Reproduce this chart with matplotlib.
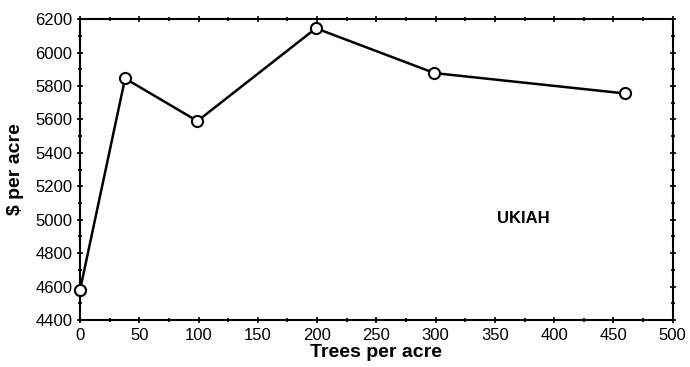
import matplotlib
matplotlib.use("Agg")
import matplotlib.pyplot as plt
from matplotlib.ticker import MultipleLocator

trees = [0, 38, 99, 199, 299, 460]
dollars = [4580, 5845, 5590, 6145, 5877, 5755]
xticks = list(range(0, 501, 50))
yticks = list(range(4400, 6201, 200))

plt.rcParams['font.family'] = ['Liberation Sans', 'DejaVu Sans']
fig = plt.figure(figsize=(6.9, 3.67), dpi=100)
ax = fig.add_axes([0.116, 0.128, 0.859, 0.820])
ax.plot(trees, dollars, color='black', lw=1.8, marker='o', ms=8,
        mfc='white', mec='black', mew=1.5, clip_on=False, zorder=3)
ax.set_xlim(0, 500)
ax.set_ylim(4400, 6200)
ax.set_xticks(xticks)
ax.set_yticks(yticks)
ax.xaxis.set_minor_locator(MultipleLocator(25))
ax.yaxis.set_minor_locator(MultipleLocator(100))
ax.tick_params(which='both', top=True, right=True, direction='inout',
               labelsize=12, width=1.2, pad=3)
ax.tick_params(which='major', length=5)
ax.tick_params(which='minor', length=3)
for s in ax.spines.values():
    s.set_linewidth(1.5)
ax.set_xlabel('Trees per acre', fontsize=14, fontweight='bold', labelpad=1)
ax.set_ylabel('$ per acre', fontsize=14, fontweight='bold', labelpad=8)
ax.text(352, 5010, 'UKIAH', fontsize=12, fontweight='bold', va='center')
fig.savefig('out.png', dpi=100)
